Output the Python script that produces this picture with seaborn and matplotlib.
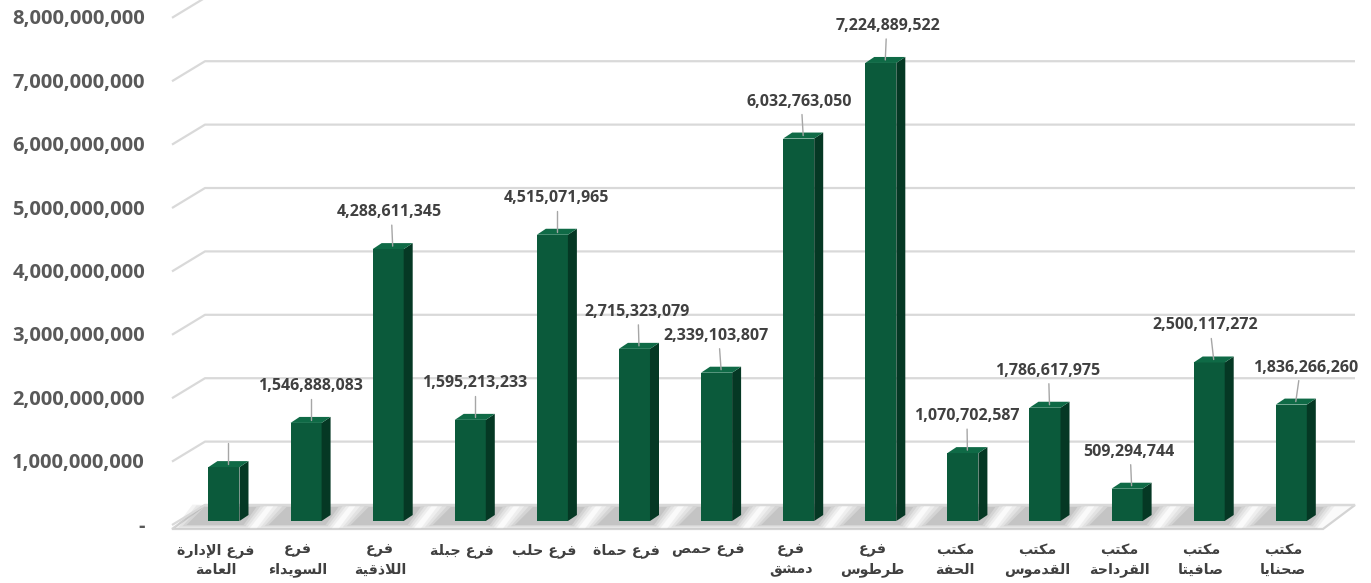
import numpy as np
import pandas as pd
import matplotlib
matplotlib.use("Agg")
import matplotlib.pyplot as plt
import matplotlib.transforms as mtransforms
import seaborn as sns
from matplotlib.patches import Polygon

# ---------------- data ----------------
categories = ["فرع الإدارة\nالعامة", "فرع\nالسويداء", "فرع\nاللاذقية", "فرع جبلة", "فرع حلب",
              "فرع حماة", "فرع حمص", "فرع\nدمشق", "فرع\nطرطوس", "مكتب\nالحفة",
              "مكتب\nالقدموس", "مكتب\nالقرداحة", "مكتب\nصافيتا", "مكتب\nصحنايا"]
values = [850000000, 1546888083, 4288611345, 1595213233, 4515071965,
          2715323079, 2339103807, 6032763050, 7224889522, 1070702587,
          1786617975, 509294744, 2500117272, 1836266260]
show_value_label = [False] + [True] * 13
y_ticks = [0, 1e9, 2e9, 3e9, 4e9, 5e9, 6e9, 7e9, 8e9]
y_tick_labels = ["-", "1,000,000,000", "2,000,000,000", "3,000,000,000", "4,000,000,000",
                 "5,000,000,000", "6,000,000,000", "7,000,000,000", "8,000,000,000"]

# ---------------- minimal Arabic shaping (matplotlib has no complex text layout) ----------------
FORMS = {
    "ا": (0xFE8D, 0xFE8E, None, None), "إ": (0xFE87, 0xFE88, None, None), "أ": (0xFE83, 0xFE84, None, None),
    "ب": (0xFE8F, 0xFE90, 0xFE91, 0xFE92), "ة": (0xFE93, 0xFE94, None, None),
    "ت": (0xFE95, 0xFE96, 0xFE97, 0xFE98), "ج": (0xFE9D, 0xFE9E, 0xFE9F, 0xFEA0),
    "ح": (0xFEA1, 0xFEA2, 0xFEA3, 0xFEA4), "د": (0xFEA9, 0xFEAA, None, None),
    "ذ": (0xFEAB, 0xFEAC, None, None), "ر": (0xFEAD, 0xFEAE, None, None),
    "س": (0xFEB1, 0xFEB2, 0xFEB3, 0xFEB4), "ش": (0xFEB5, 0xFEB6, 0xFEB7, 0xFEB8),
    "ص": (0xFEB9, 0xFEBA, 0xFEBB, 0xFEBC), "ط": (0xFEC1, 0xFEC2, 0xFEC3, 0xFEC4),
    "ع": (0xFEC9, 0xFECA, 0xFECB, 0xFECC), "ف": (0xFED1, 0xFED2, 0xFED3, 0xFED4),
    "ق": (0xFED5, 0xFED6, 0xFED7, 0xFED8), "ك": (0xFED9, 0xFEDA, 0xFEDB, 0xFEDC),
    "ل": (0xFEDD, 0xFEDE, 0xFEDF, 0xFEE0), "م": (0xFEE1, 0xFEE2, 0xFEE3, 0xFEE4),
    "ن": (0xFEE5, 0xFEE6, 0xFEE7, 0xFEE8), "و": (0xFEED, 0xFEEE, None, None),
    "ي": (0xFEF1, 0xFEF2, 0xFEF3, 0xFEF4), "ء": (0xFE80, None, None, None),
}
LAM_ALEF = {"ا": (0xFEFB, 0xFEFC), "إ": (0xFEF9, 0xFEFA), "أ": (0xFEF7, 0xFEF8)}


def shape_line(line):
    toks = []
    i = 0
    while i < len(line):
        c = line[i]
        if c == "ل" and i + 1 < len(line) and line[i + 1] in LAM_ALEF:
            toks.append(("LA", line[i + 1]))
            i += 2
        else:
            toks.append(c)
            i += 1

    def joins_forward(t):
        return isinstance(t, str) and t in FORMS and FORMS[t][2] is not None

    def joins_backward(t):
        if isinstance(t, tuple):
            return True
        return t in FORMS and FORMS[t][1] is not None

    out = []
    for k, t in enumerate(toks):
        prev = toks[k - 1] if k > 0 else None
        nxt = toks[k + 1] if k + 1 < len(toks) else None
        jp = prev is not None and joins_forward(prev)
        if isinstance(t, tuple):
            iso, fin = LAM_ALEF[t[1]]
            out.append(chr(fin if jp else iso))
            continue
        if t not in FORMS:
            out.append(t)
            continue
        iso, fin, ini, med = FORMS[t]
        jn = nxt is not None and ini is not None and joins_backward(nxt)
        if fin is None:
            jp = False
        if jp and jn:
            out.append(chr(med))
        elif jp:
            out.append(chr(fin))
        elif jn:
            out.append(chr(ini))
        else:
            out.append(chr(iso))
    return "".join(reversed(out))


def shape(text):
    return "\n".join(shape_line(l) for l in text.split("\n"))


# ---------------- figure ----------------
sns.set_theme(style="white")
plt.rcParams["font.family"] = ["Open Sans", "DejaVu Sans"]

W, H = 1371, 583
fig = plt.figure(figsize=(W / 100, H / 100), dpi=100)
ax = fig.add_axes([172 / W, 62 / H, (1355 - 172) / W, 521 / H])

df = pd.DataFrame({"cat": categories, "val": values})
FRONT = "#0b5a3b"
SIDE = "#053824"
TOP = "#0f6a46"
sns.barplot(data=df, x="cat", y="val", color=FRONT, saturation=1, width=0.378,
            ax=ax, zorder=4, linewidth=0)

ax.set_xlim(-0.633, 13.776)
ax.set_ylim(0, 8.218e9)
for s in ax.spines.values():
    s.set_visible(False)
ax.set_xlabel("")
ax.set_ylabel("")

fig.canvas.draw()
p0 = ax.transData.transform((0, 0))
p1 = ax.transData.transform((1, 1e9))
px_x = 1.0 / (p1[0] - p0[0])          # data units per pixel (x)
px_y = 1e9 / (p1[1] - p0[1])          # data units per pixel (y)
x_lo, x_hi = ax.get_xlim()

# floor
floor = Polygon([(x_lo, -8 * px_y), (x_hi - 32 * px_x, -8 * px_y),
                 (x_hi, 16 * px_y), (x_lo + 33 * px_x, 16 * px_y)],
                closed=True, facecolor="#fafafa", edgecolor="#d4d4d4", lw=1.6,
                zorder=1, clip_on=False)
ax.add_patch(floor)

# gridlines with the 3D wall slant
for t in y_ticks:
    ax.plot([x_lo, x_lo + 33 * px_x, x_hi], [t - 4 * px_y, t + 16 * px_y, t + 16 * px_y],
            color="#d9d9d9", lw=1.6, zorder=2, clip_on=False, solid_capstyle="butt")

# 3D faces of bars and soft shadows
ddx, ddy = 9 * px_x, 6 * px_y
for i, p in enumerate(ax.patches[:len(values)]):
    x0, w, h = p.get_x(), p.get_width(), p.get_height()
    for k, a in zip(range(4), [0.10, 0.12, 0.16, 0.22]):
        e = (3 - k) * 4
        shadow = Polygon([(x0 - (22 + e) * px_x, -(4 + e * 0.3) * px_y),
                          (x0 + w + (4 + e * 0.5) * px_x, -(4 + e * 0.3) * px_y),
                          (x0 + w + ddx + (8 + e) * px_x, (14 + e * 0.2) * px_y),
                          (x0 - (4 + e) * px_x, (14 + e * 0.2) * px_y)],
                         closed=True, facecolor="#8c8c8c", edgecolor="none",
                         alpha=a, zorder=1.5, clip_on=False)
        ax.add_patch(shadow)
    side = Polygon([(x0 + w, 0), (x0 + w + ddx, ddy), (x0 + w + ddx, h + ddy), (x0 + w, h)],
                   closed=True, facecolor=SIDE, edgecolor="none", zorder=4)
    top = Polygon([(x0, h), (x0 + ddx, h + ddy), (x0 + w + ddx, h + ddy), (x0 + w, h)],
                  closed=True, facecolor=TOP, edgecolor="none", zorder=4)
    ax.add_patch(side)
    ax.add_patch(top)

# value labels with leader lines
label_dx = [0, 0, -3, 0, 0, -2, -5, -4, 3, -1, -2, -3, -8, 10]
for i, (v, show) in enumerate(zip(values, show_value_label)):
    xc = i + ddx / 2
    ax.plot([xc, xc + label_dx[i] * 0.3 * px_x], [v + 3 * px_y, v + 24 * px_y],
            color="#a6a6a6", lw=1.0, zorder=5)
    if show:
        ax.annotate(f"{v:,.0f}", xy=(xc + label_dx[i] * px_x, v), xytext=(0, 37 * 0.72),
                    textcoords="offset points", ha="center", va="center",
                    fontsize=11.5, fontweight="bold", color="#404040",
                    family=["Open Sans", "DejaVu Sans"], zorder=6)

# axes ticks
ax.set_yticks(y_ticks)
ax.set_yticklabels(y_tick_labels)
ax.tick_params(axis="y", length=0, pad=19.5)
for lab in ax.get_yticklabels():
    lab.set_fontsize(14.5)
    lab.set_fontweight("bold")
    lab.set_color("#595959")
    lab.set_family(["Open Sans", "DejaVu Sans"])
    lab.set_transform(lab.get_transform() +
                      mtransforms.ScaledTranslation(0, -3 / 100, fig.dpi_scale_trans))

ax.set_xticks(range(len(categories)))
ax.set_xticklabels([shape(c) for c in categories])
ax.tick_params(axis="x", length=0, pad=16)
for lab in ax.get_xticklabels():
    lab.set_fontsize(10.3)
    lab.set_fontweight("bold")
    lab.set_color("#404040")
    lab.set_family(["DejaVu Sans"])
    lab.set_linespacing(1.5)
    lab.set_transform(lab.get_transform() +
                      mtransforms.ScaledTranslation(-8 / 100, 0, fig.dpi_scale_trans))

fig.savefig("out.png", dpi=100)
